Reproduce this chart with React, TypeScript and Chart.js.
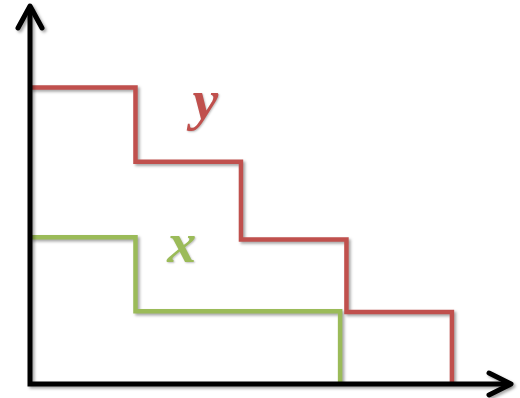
import React, { useEffect, useRef } from "react";
import { Chart, registerables } from "chart.js";

Chart.register(...registerables);

// Step series (x position, level)
const yStepX = [0, 1, 2, 3, 4];
const yStepY = [4, 3, 1.95, 0.97, 0];
const xStepX = [0, 1, 2.94];
const xStepY = [1.98, 0.98, 0];

const seriesNames = ["y", "x"];
const seriesColors = ["#C0504D", "#9BBB59"];
// label anchor positions in data units
const labelX = [1.54, 1.3];
const labelY = [3.58, 1.65];

const X_MAX = 4.56;
const Y_MAX = 5.1;

export default function App() {
  const ref = useRef<HTMLCanvasElement | null>(null);

  useEffect(() => {
    document.body.style.margin = "0";
    const canvas = ref.current!;
    const shadowPlugin = {
      id: "shadowPlugin",
      beforeDatasetDraw(chart: any) {
        const ctx = chart.ctx;
        ctx.save();
        ctx.shadowColor = "rgba(0,0,0,0.35)";
        ctx.shadowBlur = 3;
        ctx.shadowOffsetX = 2;
        ctx.shadowOffsetY = 2;
      },
      afterDatasetDraw(chart: any) {
        chart.ctx.restore();
      },
    };
    const axesPlugin = {
      id: "axesPlugin",
      afterDraw(chart: any) {
        const ctx = chart.ctx;
        const xs = chart.scales.x;
        const ys = chart.scales.y;
        const x0 = xs.getPixelForValue(0);
        const y0 = ys.getPixelForValue(0);
        const xEnd = xs.getPixelForValue(X_MAX);
        const yEnd = ys.getPixelForValue(Y_MAX);
        ctx.save();
        ctx.shadowColor = "rgba(0,0,0,0.35)";
        ctx.shadowBlur = 3;
        ctx.shadowOffsetX = 2;
        ctx.shadowOffsetY = 2;
        ctx.strokeStyle = "#000";
        ctx.lineWidth = 5;
        ctx.lineJoin = "miter";
        ctx.lineCap = "butt";
        ctx.beginPath();
        ctx.moveTo(x0, yEnd + 2);
        ctx.lineTo(x0, y0);
        ctx.lineTo(xEnd - 2, y0);
        ctx.stroke();
        ctx.lineJoin = "round";
        ctx.lineCap = "round";
        ctx.beginPath();
        ctx.moveTo(x0 - 12, yEnd + 22);
        ctx.lineTo(x0, yEnd);
        ctx.lineTo(x0 + 12, yEnd + 22);
        ctx.stroke();
        ctx.beginPath();
        ctx.moveTo(xEnd - 22, y0 - 11);
        ctx.lineTo(xEnd, y0);
        ctx.lineTo(xEnd - 22, y0 + 11);
        ctx.stroke();
        ctx.restore();

        ctx.save();
        ctx.font = "bold italic 58px 'Liberation Serif'";
        ctx.textAlign = "left";
        ctx.textBaseline = "alphabetic";
        ctx.shadowColor = "rgba(0,0,0,0.25)";
        ctx.shadowBlur = 2;
        ctx.shadowOffsetX = 1;
        ctx.shadowOffsetY = 1;
        seriesNames.forEach((n, i) => {
          ctx.fillStyle = seriesColors[i];
          ctx.fillText(n, xs.getPixelForValue(labelX[i]), ys.getPixelForValue(labelY[i]));
        });
        ctx.restore();
      },
    };

    const chart = new Chart(canvas, {
      type: "line",
      data: {
        datasets: [
          {
            label: seriesNames[0],
            data: yStepX.map((x, i) => ({ x, y: yStepY[i] })),
            borderColor: seriesColors[0],
            borderWidth: 4.5,
            stepped: "before",
            pointRadius: 0,
            fill: false,
            borderJoinStyle: "miter",
            borderCapStyle: "butt",
          },
          {
            label: seriesNames[1],
            data: xStepX.map((x, i) => ({ x, y: xStepY[i] })),
            borderColor: seriesColors[1],
            borderWidth: 4.5,
            stepped: "before",
            pointRadius: 0,
            fill: false,
            borderJoinStyle: "miter",
            borderCapStyle: "butt",
          },
        ],
      },
      options: {
        animation: false,
        responsive: false,
        maintainAspectRatio: false,
        layout: { padding: { left: 30, top: 6, right: 9, bottom: 14 } },
        plugins: { legend: { display: false }, tooltip: { enabled: false } },
        scales: {
          x: { type: "linear", min: 0, max: X_MAX, display: false },
          y: { type: "linear", min: 0, max: Y_MAX, display: false },
        },
      },
      plugins: [shadowPlugin, axesPlugin],
    } as any);
    return () => chart.destroy();
  }, []);

  return (
    <div style={{ position: "absolute", left: 0, top: 0, width: 520, height: 398, background: "#fff" }}>
      <canvas ref={ref} width={520} height={398} style={{ width: 520, height: 398, display: "block" }} />
    </div>
  );
}
